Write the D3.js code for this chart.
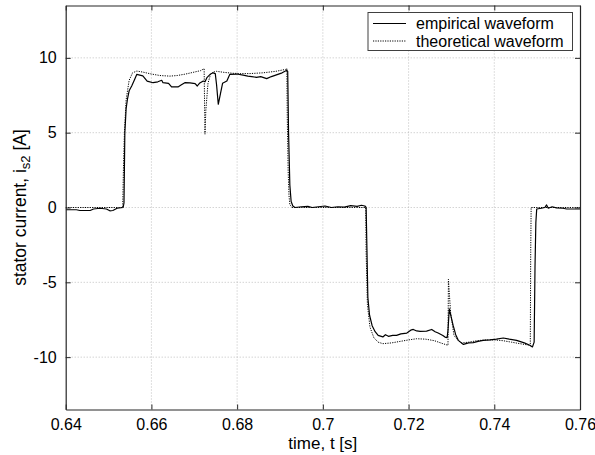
<!DOCTYPE html>
<html><head><meta charset="utf-8">
<script src="https://cdn.jsdelivr.net/npm/d3@7"></script>
<style>body{margin:0;background:#fff;}svg{display:block;font-family:"Liberation Sans",Arial,sans-serif;}</style>
</head><body><svg id="c" width="595" height="455"></svg>
<script>
const xTicks = [0.64,0.66,0.68,0.70,0.72,0.74,0.76];
const xTickLabels = ["0.64","0.66","0.68","0.7","0.72","0.74","0.76"];
const yTicks = [-10,-5,0,5,10];
const yTickLabels = ["-10","-5","0","5","10"];
const seriesNames = ["empirical waveform","theoretical waveform"];

const tEmp = [0.640,0.6425,0.6433,0.6457,0.6465,0.6480,0.6495,0.6503,0.6510,0.6520,0.6534,0.6536,0.6538,0.6541,0.6544,0.6548,0.6554,0.6560,0.6566,0.6580,0.6590,0.6604,0.6615,0.6624,0.6627,0.6640,0.6647,0.6662,0.6670,0.6678,0.6690,0.6702,0.6707,0.6712,0.6721,0.6725,0.6730,0.6737,0.6744,0.6749,0.6752,0.6756,0.6761,0.6766,0.6776,0.6783,0.6799,0.6814,0.6825,0.6834,0.6845,0.6855,0.6869,0.6880,0.6890,0.6905,0.6916,0.6918,0.6920,0.6923,0.6926,0.6930,0.6935,0.6950,0.6965,0.6975,0.6990,0.7005,0.7020,0.7035,0.7050,0.7065,0.7080,0.7090,0.7098,0.7101,0.7103,0.7105,0.7109,0.7115,0.7122,0.7129,0.7140,0.7146,0.7153,0.7163,0.7172,0.7182,0.7196,0.7205,0.7211,0.7219,0.7227,0.7242,0.7254,0.7262,0.7269,0.7280,0.7285,0.7290,0.7292,0.7295,0.7300,0.7304,0.7310,0.7316,0.7328,0.7340,0.7351,0.7362,0.7374,0.7390,0.7405,0.7421,0.7435,0.7452,0.7470,0.7483,0.7489,0.7493,0.7495,0.7497,0.7499,0.7510,0.7518,0.7522,0.7526,0.7535,0.7545,0.7560,0.7569,0.7600];
const iEmp = [-0.15,-0.15,-0.2,-0.2,-0.1,-0.05,-0.1,-0.22,-0.2,-0.05,0.0,0.3,5.0,6.6,7.23,7.8,8.12,8.5,8.9,8.8,8.45,8.34,8.4,8.5,8.34,8.3,8.06,8.06,8.2,8.34,8.33,8.28,8.12,8.3,8.45,8.4,8.7,8.9,9.0,8.95,8.2,6.9,7.6,8.3,8.45,8.9,8.92,8.85,8.78,8.75,8.7,8.75,8.61,8.75,8.85,9.0,9.17,9.1,5.0,1.5,0.4,0.1,0.0,0.05,0.08,0.0,0.05,0.1,0.0,0.05,0.02,0.12,0.08,0.15,0.1,0.0,-3.0,-6.0,-7.2,-7.9,-8.3,-8.55,-8.65,-8.5,-8.61,-8.55,-8.55,-8.45,-8.39,-8.2,-8.15,-8.25,-8.28,-8.26,-8.15,-8.3,-8.39,-8.55,-8.66,-8.7,-8.2,-6.77,-7.4,-7.88,-8.5,-8.88,-9.15,-9.05,-9.03,-8.95,-8.88,-8.85,-8.8,-8.72,-8.8,-8.88,-9.05,-9.21,-9.32,-9.0,-4.0,-1.0,-0.1,-0.05,0.0,0.17,-0.05,0.05,-0.02,-0.05,-0.1,-0.1];

const tTheo = [0.640,0.6533,0.6535,0.6537,0.6541,0.6548,0.6556,0.6566,0.6580,0.6600,0.6620,0.6643,0.6660,0.6680,0.6700,0.6715,0.6723,0.6724,0.6725,0.6727,0.6732,0.6738,0.6744,0.6752,0.6770,0.6790,0.6807,0.6830,0.6860,0.6890,0.6913,0.6916,0.6917,0.6919,0.6921,0.6923,0.6928,0.7100,0.7101,0.7104,0.7110,0.7119,0.7129,0.7140,0.7160,0.7180,0.7200,0.7219,0.7240,0.7260,0.7280,0.7292,0.7293,0.7298,0.7306,0.7316,0.7324,0.7340,0.7360,0.7380,0.7400,0.7420,0.7440,0.7460,0.7481,0.7484,0.7485,0.7486,0.7600];
const iTheo = [0,0,3.0,5.0,7.2,8.5,9.0,9.12,9.05,8.92,8.82,8.78,8.82,8.92,9.05,9.15,9.28,7.0,4.9,6.5,8.3,8.9,9.05,9.1,9.03,8.97,8.95,8.95,9.0,9.1,9.23,9.3,6.0,2.5,0.8,0.2,0,0,-3.0,-6.5,-8.0,-8.7,-9.0,-9.1,-9.05,-8.95,-8.85,-8.77,-8.8,-8.9,-9.1,-9.21,-4.8,-7.0,-8.55,-8.9,-9.05,-9.0,-8.9,-8.85,-8.85,-8.9,-9.0,-9.1,-9.2,-9.25,-3.0,0,0];

const svg = d3.select("#c");
const L = 65.7, R = 580, T = 5.5, B = 409.5;
const x = d3.scaleLinear().domain([0.64,0.76]).range([L,R]);
const y = d3.scaleLinear().domain([-13.5,13.5]).range([B,T]);
const axisCol = "#262626";

// grid
const g = svg.append("g");
g.selectAll(".gx").data(xTicks.slice(1,-1)).join("line")
  .attr("x1",d=>x(d)).attr("x2",d=>x(d)).attr("y1",T).attr("y2",B)
  .attr("stroke","#b0b0b0").attr("stroke-width",0.8).attr("stroke-dasharray","1,2");
g.selectAll(".gy").data(yTicks).join("line")
  .attr("y1",d=>y(d)).attr("y2",d=>y(d)).attr("x1",L).attr("x2",R)
  .attr("stroke","#b0b0b0").attr("stroke-width",0.8).attr("stroke-dasharray","1,2");

svg.append("defs").append("clipPath").attr("id","clip").append("rect")
  .attr("x",L).attr("y",T).attr("width",R-L).attr("height",B-T);

const line = d3.line().x(d=>x(d[0])).y(d=>y(d[1]));
const empData = tEmp.map((t,i)=>[t,iEmp[i]]);
const theoData = tTheo.map((t,i)=>[t,iTheo[i]]);
const pg = svg.append("g").attr("clip-path","url(#clip)");
pg.append("path").datum(theoData).attr("d",line).attr("fill","none")
  .attr("stroke","#000").attr("stroke-width",1).attr("stroke-dasharray","1.2,1.2");
pg.append("path").datum(empData).attr("d",line).attr("fill","none")
  .attr("stroke","#000").attr("stroke-width",1.2).attr("stroke-linejoin","round");

// axes
const fmtX = d=>xTickLabels[xTicks.indexOf(d)];
const fmtY = d=>yTickLabels[yTicks.indexOf(d)];
const axB = svg.append("g").attr("transform",`translate(0,${B})`)
  .call(d3.axisBottom(x).tickValues(xTicks).tickFormat(fmtX).tickSizeInner(-5).tickSizeOuter(0).tickPadding(9));
const axT = svg.append("g").attr("transform",`translate(0,${T})`)
  .call(d3.axisTop(x).tickValues(xTicks).tickFormat("").tickSizeInner(-5).tickSizeOuter(0));
const axL = svg.append("g").attr("transform",`translate(${L},0)`)
  .call(d3.axisLeft(y).tickValues(yTicks).tickFormat(fmtY).tickSizeInner(-5).tickSizeOuter(0).tickPadding(9));
const axR = svg.append("g").attr("transform",`translate(${R},0)`)
  .call(d3.axisRight(y).tickValues(yTicks).tickFormat("").tickSizeInner(-5).tickSizeOuter(0));
[axB,axT,axL,axR].forEach(a=>{
  a.selectAll("path").attr("stroke",axisCol).attr("stroke-width",1.2);
  a.selectAll("line").attr("stroke",axisCol).attr("stroke-width",1);
  a.selectAll("text").attr("fill","#000").style("font-size","16px").style("font-family","'Liberation Sans',Arial,sans-serif");
});

// labels
svg.append("text").attr("x",(L+R)/2).attr("y",449).attr("text-anchor","middle")
  .style("font-size","17px").text("time, t [s]");
const yl = svg.append("text").attr("transform",`translate(26,${(T+B)/2}) rotate(-90)`)
  .attr("text-anchor","middle").style("font-size","17.5px");
yl.append("tspan").text("stator current, i");
yl.append("tspan").attr("dy",4).style("font-size","13px").text("s2");
yl.append("tspan").attr("dy",-4).text(" [A]");

// legend
const lg = svg.append("g");
lg.append("rect").attr("x",368).attr("y",12.5).attr("width",204.5).attr("height",38)
  .attr("fill","#fff").attr("stroke","#404040").attr("stroke-width",1);
const ly = [23.5,41];
lg.append("line").attr("x1",373).attr("x2",406).attr("y1",ly[0]).attr("y2",ly[0])
  .attr("stroke","#000").attr("stroke-width",1.2);
lg.append("line").attr("x1",373).attr("x2",406).attr("y1",ly[1]).attr("y2",ly[1])
  .attr("stroke","#000").attr("stroke-width",1).attr("stroke-dasharray","1.2,1.2");
seriesNames.forEach((n,i)=>{
  lg.append("text").attr("x",416).attr("y",ly[i]+5.5).style("font-size","16px").text(n);
});
</script></body></html>
